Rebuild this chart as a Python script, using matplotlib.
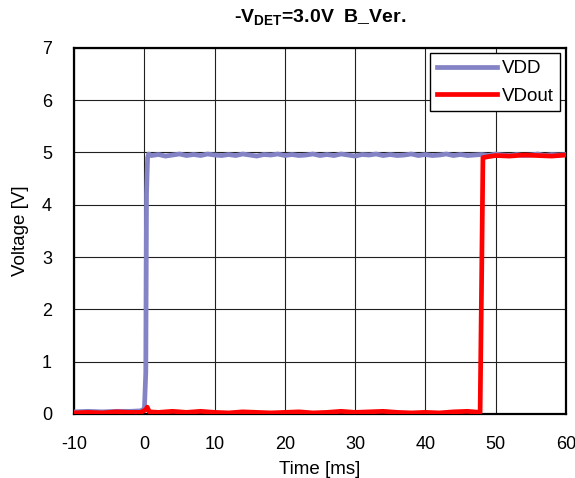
import matplotlib.pyplot as plt

plt.rcParams['font.family'] = ['Liberation Sans', 'DejaVu Sans']
plt.rcParams['mathtext.fontset'] = 'custom'
plt.rcParams['mathtext.rm'] = 'Liberation Sans:bold'
plt.rcParams['mathtext.bf'] = 'Liberation Sans:bold'
plt.rcParams['axes.unicode_minus'] = False

# VDD trace (time in ms, voltage in V)
t_vdd = [-10, -8, -6, -4, -2, -0.5, 0.0, 0.2, 0.3, 0.45, 0.6, 1, 2, 3, 4, 5, 6, 7, 8,
         9, 10, 11, 12, 13, 14, 15, 16, 17, 18, 19, 20, 21, 22, 23, 24, 25, 26,
         27, 28, 29, 30, 31, 32, 33, 34, 35, 36, 37, 38, 39, 40, 41, 42, 43, 44,
         45, 46, 47, 48, 49, 50, 51, 52, 53, 54, 55, 56, 57, 58, 59, 60]
v_vdd = [0.04, 0.05, 0.04, 0.05, 0.05, 0.06, 0.10, 0.8, 4.2, 4.9, 4.97, 4.94, 4.96,
         4.93, 4.95, 4.97, 4.94, 4.96, 4.94, 4.97, 4.95, 4.94, 4.96, 4.94, 4.97,
         4.95, 4.93, 4.96, 4.95, 4.97, 4.94, 4.96, 4.94, 4.95, 4.97, 4.94, 4.96,
         4.94, 4.97, 4.95, 4.93, 4.96, 4.95, 4.97, 4.94, 4.96, 4.94, 4.95, 4.97,
         4.94, 4.96, 4.94, 4.95, 4.97, 4.94, 4.96, 4.94, 4.95, 4.96, 4.94, 4.97,
         4.95, 4.94, 4.96, 4.94, 4.95, 4.97, 4.94, 4.96, 4.95, 4.96]

# VDout trace
t_out = [-10, -8, -6, -4, -2, -0.5, 0.2, 0.4, 0.7, 2, 4, 6, 8, 10, 12, 14, 16, 18,
         20, 22, 24, 26, 28, 30, 32, 34, 36, 38, 40, 42, 44, 46, 47.8, 48.0, 48.2,
         49, 50, 52, 54, 56, 58, 60]
v_out = [0.02, 0.03, 0.02, 0.04, 0.03, 0.03, 0.08, 0.13, 0.04, 0.03, 0.05, 0.03,
         0.05, 0.03, 0.02, 0.04, 0.03, 0.02, 0.03, 0.04, 0.02, 0.03, 0.05, 0.03,
         0.04, 0.05, 0.03, 0.02, 0.03, 0.02, 0.04, 0.05, 0.03, 2.4, 4.9, 4.92,
         4.94, 4.93, 4.95, 4.94, 4.93, 4.95]

fig = plt.figure(figsize=(5.75, 4.78), dpi=100)
ax = fig.add_axes([0.129, 0.134, 0.855, 0.766])

ax.plot(t_vdd, v_vdd, color='#8383C6', linewidth=3.4, label='VDD', zorder=3)
ax.plot(t_out, v_out, color='#FF0000', linewidth=3.4, label='VDout', zorder=4)

ax.set_xlim(-10, 60)
ax.set_ylim(0, 7)
ax.set_xticks(range(-10, 61, 10))
ax.set_yticks(range(0, 8))
ax.tick_params(axis='x', length=0, labelsize=13, pad=16)
ax.tick_params(axis='y', length=0, labelsize=13, pad=16)
ax.grid(True, color='#202020', linewidth=0.8)
ax.set_axisbelow(True)
for s in ax.spines.values():
    s.set_linewidth(1.6)
    s.set_color('black')

ax.set_xlabel('Time [ms]', fontsize=13.5, va='center')
ax.xaxis.set_label_coords(0.5, -0.153)
ax.set_ylabel('Voltage [V]', fontsize=13.5, va='center')
ax.yaxis.set_label_coords(-0.110, 0.5)
ax.set_title(r'-V$_{\mathregular{DET}}$=3.0V  B_Ver.', fontsize=14,
             fontweight='bold', pad=18)

leg = ax.legend(loc='upper right', fontsize=13.5, fancybox=False, framealpha=1,
                edgecolor='black', borderaxespad=0.3, handlelength=3.2,
                handletextpad=0.25, labelspacing=0.55, borderpad=0.35)
leg.get_frame().set_linewidth(1.0)

fig.savefig('out.png', dpi=100)
